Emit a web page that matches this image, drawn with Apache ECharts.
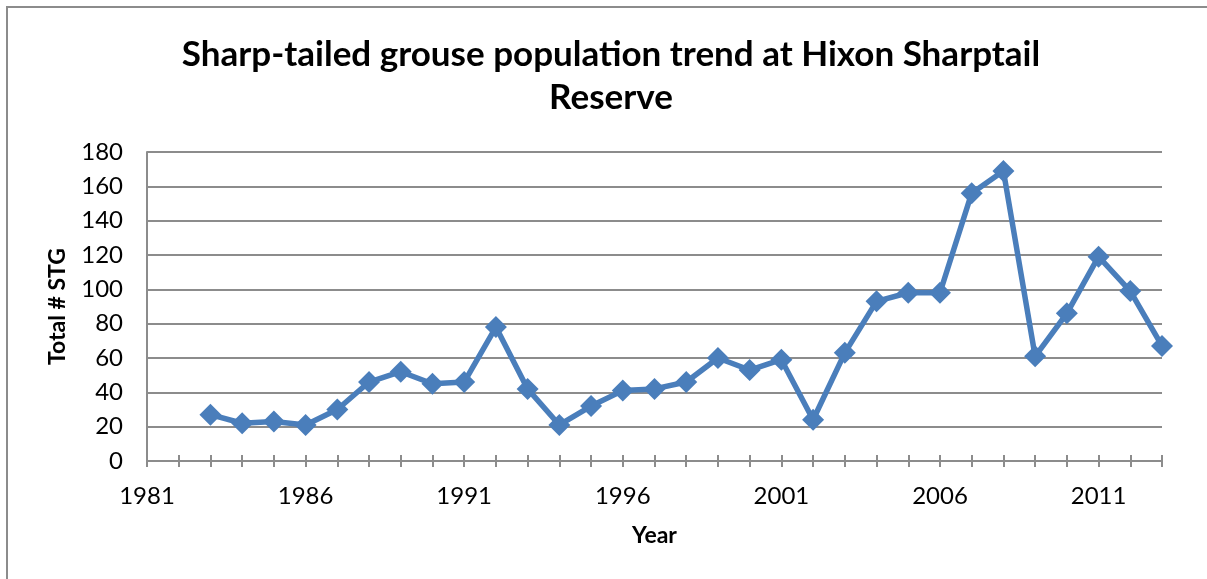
<!DOCTYPE html>
<html>
<head>
<meta charset="utf-8">
<script src="https://cdn.jsdelivr.net/npm/echarts@6/dist/echarts.min.js"></script>
<style>html,body{margin:0;padding:0;background:#fff;overflow:hidden;}#c{width:1207px;height:579px;}</style>
</head>
<body>
<div id="c"></div>
<script>
const titleText = 'Sharp-tailed grouse population trend at Hixon Sharptail\nReserve';
const yAxisName = 'Total # STG';
const xAxisName = 'Year';
const years = [1983,1984,1985,1986,1987,1988,1989,1990,1991,1992,1993,1994,1995,1996,1997,1998,1999,2000,2001,2002,2003,2004,2005,2006,2007,2008,2009,2010,2011,2012,2013];
const counts = [27,22,23,21,30,46,52,45,46,78,42,21,32,41,42,46,60,53,59,24,63,93,98,98,156,169,61,86,119,99,67];
const xMin = 1981, xMax = 2013, xLabelStep = 5;
const yMin = 0, yMax = 180, yStep = 20;

const FONT = 'Lato';
const chart = echarts.init(document.getElementById('c'), null, {renderer: 'canvas'});
const axisGray = '#8c8c8c';
const baseX = {
  type: 'value', min: xMin, max: xMax, interval: 1, position: 'bottom',
  axisLine: {show: true, onZero: false, lineStyle: {color: axisGray, width: 2}},
  splitLine: {show: false}
};
chart.setOption({
  animation: false,
  backgroundColor: '#fff',
  graphic: [{
    type: 'polyline', shape: {points: [[7, 900], [7, 7], [1500, 7]]},
    style: {fill: 'none', stroke: '#8c8c8c', lineWidth: 2}, silent: true
  }],
  title: {
    text: titleText, left: 606, top: 28, textAlign: 'center',
    textStyle: {fontFamily: FONT, fontWeight: 'bold', fontSize: 35, lineHeight: 43, color: '#000'}
  },
  grid: {left: 147, right: 45, top: 152, bottom: 118, containLabel: false},
  xAxis: [
    Object.assign({}, baseX, {
      name: xAxisName, nameLocation: 'middle', nameGap: 63,
      nameTextStyle: {fontFamily: FONT, fontWeight: 'bold', fontSize: 23, color: '#000'},
      axisTick: {show: true, inside: false, length: 6, lineStyle: {color: axisGray, width: 2}},
      axisLabel: {
        show: true, margin: 23, fontFamily: FONT, fontSize: 24, color: '#000',
        formatter: v => ((v - xMin) % xLabelStep === 0 ? String(v) : '')
      }
    }),
    Object.assign({}, baseX, {
      axisTick: {show: true, inside: true, length: 6, lineStyle: {color: axisGray, width: 2}},
      axisLabel: {show: false}
    })
  ],
  yAxis: {
    type: 'value', min: yMin, max: yMax, interval: yStep,
    name: yAxisName, nameLocation: 'middle', nameGap: 78, nameRotate: 90,
    nameTextStyle: {fontFamily: FONT, fontWeight: 'bold', fontSize: 23, color: '#000'},
    axisLine: {show: true, lineStyle: {color: axisGray, width: 2}},
    axisTick: {show: false},
    axisLabel: {margin: 24, fontFamily: FONT, fontSize: 24, color: '#000'},
    splitLine: {show: true, lineStyle: {color: axisGray, width: 2}}
  },
  series: [{
    type: 'line',
    data: years.map((y, i) => [y, counts[i]]),
    symbol: 'diamond', symbolSize: 22,
    lineStyle: {color: '#4a7ebb', width: 5.5},
    itemStyle: {color: '#4a7ebb'},
    clip: false
  }]
});
</script>
</body>
</html>
